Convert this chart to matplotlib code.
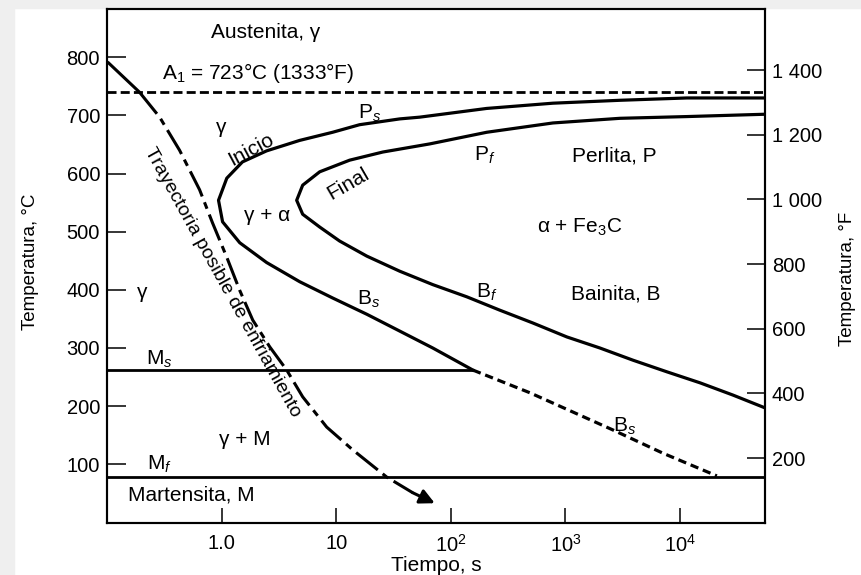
import matplotlib
matplotlib.use('Agg')
import matplotlib.pyplot as plt
from matplotlib.patches import Rectangle
import numpy as np

# Diagrama TTT (tiempo en s, temperatura en °C)
tray_t = [0.101, 0.192, 0.288, 0.430, 0.643, 0.834, 1.11, 1.44, 1.87, 2.63, 3.70,
          5.10, 8.26, 13.9, 27.6, 46.6, 72.5]
tray_T = [792, 740, 697, 640, 572, 515, 456, 399, 348, 302, 262,
          216, 164, 125, 78, 51, 33]

inicio_t = [55200, 11500, 2990, 778, 206, 53.6, 35.9, 16.0, 9.31, 4.80, 2.47, 1.52, 1.11, 0.94,
            1.02, 1.44, 2.47, 4.80, 9.31, 18.5, 35.9, 69.6, 156]
inicio_T = [730, 730, 726, 721, 712, 697, 694, 684, 671, 657, 639, 620, 592, 554,
            517, 481, 447, 414, 386, 358, 329, 300, 262]

bs_t = [156, 490, 2600, 7110, 21000]
bs_T = [262, 223, 159, 119, 80]

final_t = [55200, 11500, 2990, 778, 206, 65.6, 25.5, 13.1, 7.18, 5.10, 4.52,
           5.10, 7.18, 10.7, 18.5, 35.9, 69.6, 138, 268, 520, 1030, 2000, 3890,
           7690, 15000, 29000, 55200]
final_T = [702, 698, 695, 687, 671, 651, 637, 623, 603, 580, 554,
           530, 508, 484, 458, 432, 409, 388, 365, 343, 319, 300, 279,
           259, 240, 219, 197]

A1 = 740
Ms = 262
Mf = 78
ms_end = 156

xticks = [1, 10, 100, 1000, 10000]
xticklabels = ['1.0', '10', r'$10^2$', r'$10^3$', r'$10^4$']
yticks_C = [100, 200, 300, 400, 500, 600, 700, 800]
yticks_F = [200, 400, 600, 800, 1000, 1200, 1400]
yticklabels_F = ['200', '400', '600', '800', '1 000', '1 200', '1 400']

params = {'font.family': 'Liberation Sans',
          'mathtext.fontset': 'custom',
          'mathtext.rm': 'Liberation Sans',
          'mathtext.it': 'Liberation Sans:italic',
          'lines.scale_dashes': False,
          'axes.linewidth': 1.5,
          }
plt.rcParams.update(params)

fig = plt.figure(figsize=(8.61, 5.75), dpi=100)
fig.patches.append(Rectangle((0, 1 - 8/575), 1, 8/575, transform=fig.transFigure,
                             color='#efefef', zorder=-1))
fig.patches.append(Rectangle((0, 0), 14/861, 1, transform=fig.transFigure,
                             color='#efefef', zorder=-1))

ax = fig.add_axes([107/861, 1 - 523/575, (765 - 107)/861, (523 - 9)/575])
ax.set_xscale('log')
ax.set_xlim(0.1, 55200)
ax.set_ylim(-1, 883)

# curvas
ax.plot(tray_t[:2], tray_T[:2], color='k', lw=2.2, solid_capstyle='butt')
ax.plot(tray_t[1:-1], tray_T[1:-1], color='k', lw=2.2, dashes=(20, 4.5, 5, 4.5))
ax.annotate('', xy=(tray_t[-1], tray_T[-1]), xytext=(tray_t[-2], tray_T[-2]),
            arrowprops=dict(arrowstyle='-|>', color='k', lw=2.2, mutation_scale=22,
                            shrinkA=0, shrinkB=0))
ax.plot(inicio_t, inicio_T, color='k', lw=2.3, solid_joinstyle='round')
ax.plot(bs_t, bs_T, color='k', lw=2.3, dashes=(6, 3.5))
ax.plot(final_t, final_T, color='k', lw=2.3, solid_joinstyle='round')
ax.axhline(A1, color='k', lw=2.0, dashes=(6.5, 3))
ax.plot([0.1, ms_end], [Ms, Ms], color='k', lw=2.0)
ax.axhline(Mf, color='k', lw=2.0)

# textos
fs = 15
ax.text(2.4, 842, 'Austenita, γ', fontsize=fs, ha='center', va='center')
ax.text(2.1, 773, r'A$_1$ = 723°C (1333°F)', fontsize=fs, ha='center', va='center')
ax.text(19.6, 704, r'P$_s$', fontsize=fs, ha='center', va='center')
ax.text(1.0, 680, 'γ', fontsize=fs, ha='center', va='center')
ax.text(1.79, 641, 'Inicio', fontsize=fs, ha='center', va='center',
        rotation=28, rotation_mode='anchor')
ax.text(12.6, 582, 'Final', fontsize=fs, ha='center', va='center',
        rotation=30, rotation_mode='anchor')
ax.text(2.52, 527, 'γ + α', fontsize=fs, ha='center', va='center')
ax.text(198, 632, r'P$_f$', fontsize=fs, ha='center', va='center')
ax.text(2650, 630, 'Perlita, P', fontsize=fs, ha='center', va='center')
ax.text(1340, 508, r'α + Fe$_3$C', fontsize=fs, ha='center', va='center')
ax.text(0.204, 396, 'γ', fontsize=fs, ha='center', va='center')
ax.text(19.2, 384, r'B$_s$', fontsize=fs, ha='center', va='center')
ax.text(206, 396, r'B$_f$', fontsize=fs, ha='center', va='center')
ax.text(2760, 393, 'Bainita, B', fontsize=fs, ha='center', va='center')
ax.text(0.288, 280, r'M$_s$', fontsize=fs, ha='center', va='center')
ax.text(3310, 166, r'B$_s$', fontsize=fs, ha='center', va='center')
ax.text(1.59, 142, 'γ + M', fontsize=fs, ha='center', va='center')
ax.text(0.288, 100, r'M$_f$', fontsize=fs, ha='center', va='center')
ax.text(0.547, 47, 'Martensita, M', fontsize=fs, ha='center', va='center')
ax.text(1.02, 413, 'Trayectoria posible de enfriamiento', fontsize=14,
        ha='center', va='center', rotation=-61, rotation_mode='anchor')

# ejes
ax.set_xticks(xticks)
ax.set_xticklabels(xticklabels)
ax.xaxis.set_minor_locator(matplotlib.ticker.NullLocator())
ax.set_yticks(yticks_C)
ax.tick_params(axis='y', direction='in', length=13.5, width=1.1, labelsize=14.5, pad=5)
ax.tick_params(axis='x', direction='in', length=11, width=1.1, labelsize=14.5, pad=8)
ax.set_xlabel('Tiempo, s', fontsize=15)
ax.xaxis.set_label_coords(0.5, -0.064)
ax.set_ylabel('Temperatura, °C', fontsize=13.5)
ax.yaxis.set_label_coords(-0.104, 0.508)

ax2 = ax.twinx()
ax2.set_ylim(-1, 1589)
ax2.set_yticks(yticks_F)
ax2.set_yticklabels(yticklabels_F)
ax2.tick_params(axis='y', direction='in', length=13, width=1.1, labelsize=14.5, pad=5)
ax2.set_ylabel('Temperatura, °F', fontsize=13.5)
ax2.yaxis.set_label_coords(1.112, 0.475)

plt.savefig('out.png', dpi=100)
